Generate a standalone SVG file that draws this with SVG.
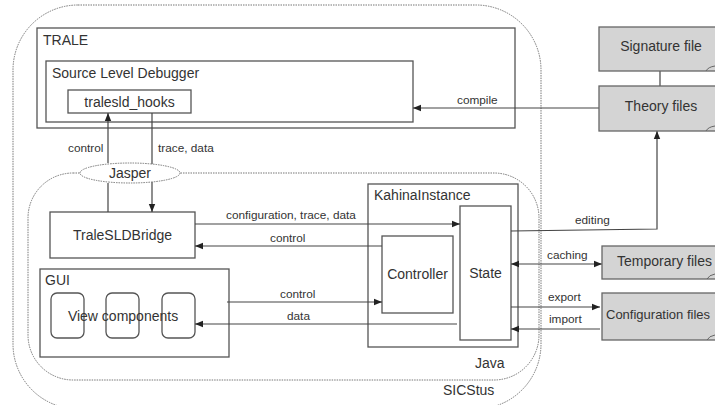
<svg xmlns="http://www.w3.org/2000/svg" width="715" height="405" viewBox="0 0 715 405">
<defs>
<marker id="ah" viewBox="0 0 10 10" refX="10" refY="5" markerWidth="8" markerHeight="8" markerUnits="userSpaceOnUse" orient="auto-start-reverse">
<path d="M0,1 L10,5 L0,9 z" fill="#222"/>
</marker>
<style>
text{font-family:"Liberation Sans",Arial,sans-serif;fill:#333}
.lbl{font-size:14px}
.el{font-size:11.8px}
.box{fill:#fff;stroke:#555;stroke-width:1.3}
.file{fill:#d4d4d4;stroke:#666;stroke-width:1.3}
.dot{fill:none;stroke:#777;stroke-width:1;stroke-dasharray:1.5 1}
.ln{fill:none;stroke:#444;stroke-width:1.2}
.curl{fill:none;stroke:#666;stroke-width:1}
</style>
</defs>
<g id="sicstus">
<rect class="dot" x="13" y="5" width="528" height="404" rx="65" ry="65"/>
<text class="lbl" x="443" y="395">SICStus</text>
</g>
<g id="java">
<rect class="dot" x="28" y="173" width="511" height="207" rx="45" ry="45"/>
<text class="lbl" x="475" y="368">Java</text>
</g>
<g id="trale">
<rect class="box" x="37" y="28" width="478" height="100"/>
<text class="lbl" x="43" y="45">TRALE</text>
</g>
<g id="sld">
<rect class="box" x="46" y="61" width="367" height="61"/>
<text class="lbl" x="52" y="78">Source Level Debugger</text>
</g>
<g id="hooks">
<rect class="box" x="68" y="90" width="123" height="23"/>
<text class="lbl" x="129.5" y="107" text-anchor="middle">tralesld_hooks</text>
</g>
<g id="bridge">
<rect class="box" x="50" y="212" width="145" height="46"/>
<text class="lbl" x="122.5" y="240" text-anchor="middle">TraleSLDBridge</text>
</g>
<g id="gui">
<rect class="box" x="40" y="269" width="189" height="88"/>
<text class="lbl" x="45" y="285">GUI</text>
</g>
<g id="views">
<rect class="box" x="51" y="293" width="33" height="45" rx="6"/>
<rect class="box" x="106" y="293" width="33" height="45" rx="6"/>
<rect class="box" x="162" y="293" width="33" height="45" rx="6"/>
<text class="lbl" x="123" y="321" text-anchor="middle">View components</text>
</g>
<g id="kahina">
<rect class="box" x="368" y="184" width="150" height="163"/>
<text class="lbl" x="374" y="200">KahinaInstance</text>
</g>
<g id="controller">
<rect class="box" x="382" y="236" width="71" height="77"/>
<text class="lbl" x="417.5" y="279" text-anchor="middle">Controller</text>
</g>
<g id="state">
<rect class="box" x="460" y="206" width="51" height="134"/>
<text class="lbl" x="485.5" y="278" text-anchor="middle">State</text>
</g>
<g id="connectors">
<line class="ln" x1="108" y1="163" x2="108" y2="113" marker-end="url(#ah)"/>
<line class="ln" x1="108" y1="183" x2="108" y2="212"/>
<line class="ln" x1="152" y1="113" x2="152" y2="212" marker-end="url(#ah)"/>
<text class="el" x="68" y="152">control</text>
<text class="el" x="158" y="152">trace, data</text>
<line class="ln" x1="195" y1="224" x2="460" y2="224" marker-end="url(#ah)"/>
<text class="el" x="226" y="219">configuration, trace, data</text>
<line class="ln" x1="382" y1="246" x2="195" y2="246" marker-end="url(#ah)"/>
<text class="el" x="270" y="242">control</text>
<line class="ln" x1="227" y1="302" x2="382" y2="302" marker-end="url(#ah)"/>
<text class="el" x="280" y="298">control</text>
<line class="ln" x1="457" y1="324" x2="195" y2="324" marker-end="url(#ah)"/>
<text class="el" x="287" y="320">data</text>
<line class="ln" x1="599" y1="108" x2="413" y2="108" marker-end="url(#ah)"/>
<text class="el" x="457" y="104">compile</text>
<polyline class="ln" points="511,231 657,229 657,131" marker-end="url(#ah)"/>
<text class="el" x="575" y="224">editing</text>
<line class="ln" x1="660" y1="71" x2="660" y2="86"/>
<line class="ln" x1="511" y1="264" x2="602" y2="264" marker-start="url(#ah)" marker-end="url(#ah)"/>
<text class="el" x="547" y="259">caching</text>
<line class="ln" x1="511" y1="307" x2="600" y2="307" marker-end="url(#ah)"/>
<text class="el" x="548" y="301">export</text>
<line class="ln" x1="600" y1="329" x2="511" y2="329" marker-end="url(#ah)"/>
<text class="el" x="549" y="323">import</text>
</g>
<g id="jasper">
<ellipse cx="130" cy="173" rx="50" ry="10" fill="#fff" stroke="#777" stroke-width="1" stroke-dasharray="1.5 1"/>
<text class="lbl" x="130" y="178" text-anchor="middle">Jasper</text>
</g>
<g id="signature">
<rect class="file" x="599" y="27" width="125" height="44"/>
<path class="curl" d="M706,71 Q708,67 715,66"/>
<text class="lbl" x="661" y="51" text-anchor="middle">Signature file</text>
</g>
<g id="theory">
<rect class="file" x="599" y="86" width="125" height="45"/>
<path class="curl" d="M706,131 Q708,127 715,126"/>
<text class="lbl" x="661" y="111" text-anchor="middle">Theory files</text>
</g>
<g id="temporary">
<rect class="file" x="602" y="246" width="125" height="33"/>
<path class="curl" d="M707,279 Q709,275 715,274"/>
<text class="lbl" x="617" y="266">Temporary files</text>
</g>
<g id="configfiles">
<rect class="file" x="602" y="293" width="125" height="47"/>
<path class="curl" d="M707,340 Q709,336 715,335"/>
<text x="606" y="319" style="font-size:13px">Configuration files</text>
</g>
</svg>
